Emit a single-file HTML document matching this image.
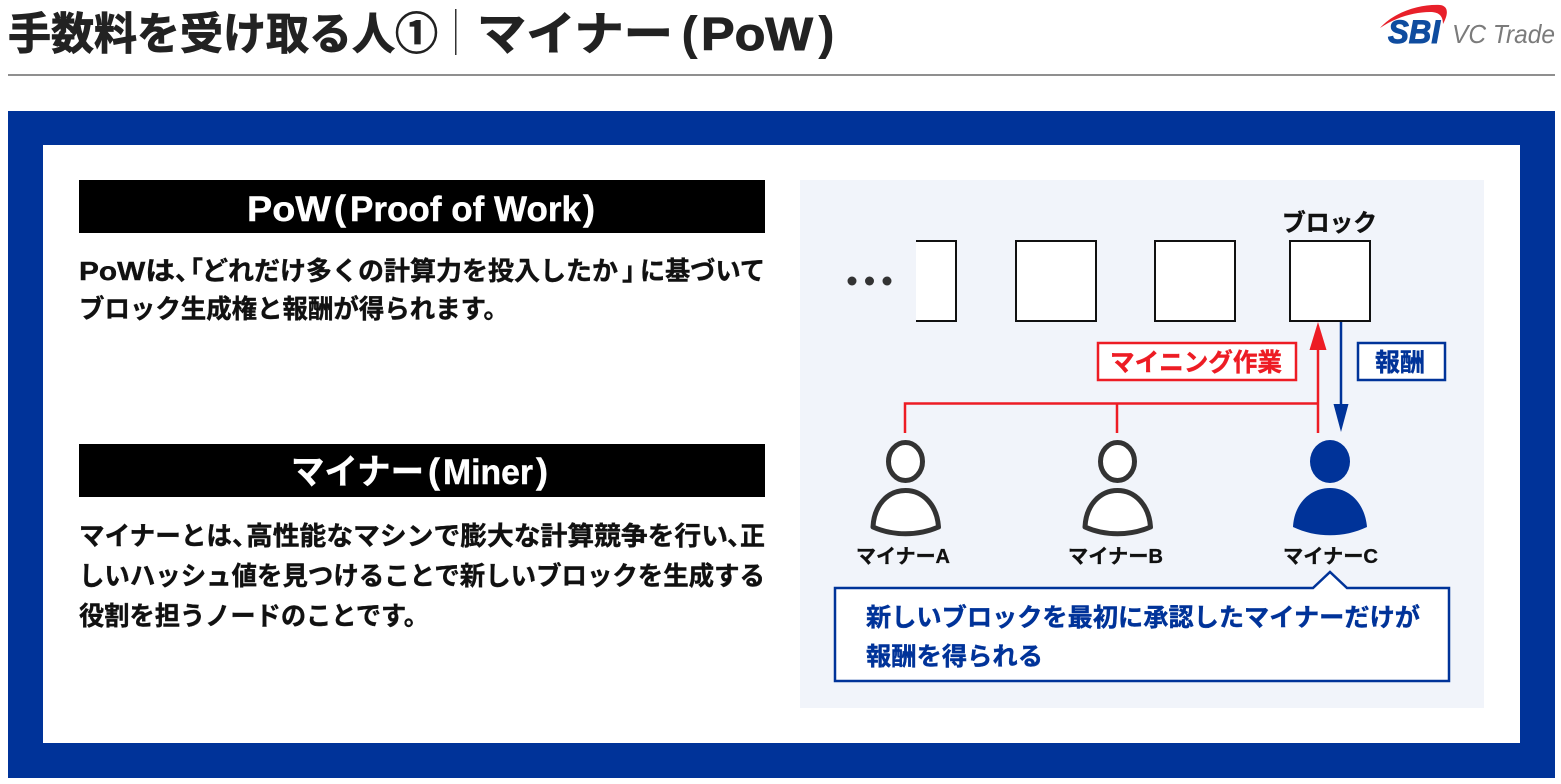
<!DOCTYPE html>
<html lang="ja">
<head>
<meta charset="utf-8">
<style>
html,body{margin:0;padding:0;background:#fff;width:1561px;height:784px;overflow:hidden}
svg{display:block}
text{font-family:"Liberation Sans","Noto Sans CJK JP",sans-serif;font-weight:700}
.b{font-size:26px;fill:#111;stroke:#111;stroke-width:.4}
.m{font-size:20px;fill:#111;stroke:#111;stroke-width:.3}
.t{font-size:44px;fill:#222;stroke:#222;stroke-width:.9}
.u{font-size:46px;fill:#222;stroke:#222;stroke-width:.9}
.h{font-size:35px;fill:#fff;stroke:#fff;stroke-width:.4}
</style>
</head>
<body>
<svg width="1561" height="784" viewBox="0 0 1561 784" xmlns="http://www.w3.org/2000/svg">
<rect width="1561" height="784" fill="#fff"/>
<!-- header -->
<text class="t" x="8" y="49" textLength="430" lengthAdjust="spacingAndGlyphs">手数料を受け取る人①</text>
<rect x="455" y="9" width="1.5" height="46" fill="#333"/>
<text class="u" x="477" y="50" textLength="196" lengthAdjust="spacingAndGlyphs">マイナー</text>
<text class="u" x="682" y="49" textLength="15" lengthAdjust="spacingAndGlyphs">(</text>
<text class="u" x="701" y="50" textLength="112" lengthAdjust="spacingAndGlyphs">PoW</text>
<text class="u" x="819" y="49" textLength="15" lengthAdjust="spacingAndGlyphs">)</text>
<rect x="8" y="74" width="1547" height="2" fill="#8f8f8f"/>
<!-- logo -->
<path d="M1380 28 C1394 12 1420 4 1440 5 C1448 6 1449 13 1443 24 C1443 15 1438 12 1430 12 C1414 12 1394 18 1380 28Z" fill="#e8202a"/>
<text x="1388" y="43" font-size="32" fill="#0f4c9f" style="font-style:italic;font-weight:900" stroke="#0f4c9f" stroke-width="1" textLength="52" lengthAdjust="spacingAndGlyphs">SBI</text>
<text x="1452" y="43" font-size="26" fill="#7b7b7b" style="font-style:italic;font-weight:400" textLength="103" lengthAdjust="spacingAndGlyphs">VC Trade</text>
<!-- frame -->
<rect x="8" y="111" width="1547" height="667" fill="#003399"/>
<rect x="43" y="145" width="1477" height="598" fill="#fff"/>
<!-- left -->
<rect x="79" y="180" width="686" height="53" fill="#000"/>
<text class="h" x="247" y="221" textLength="84" lengthAdjust="spacingAndGlyphs">PoW</text>
<text class="h" x="334" y="220" textLength="12" lengthAdjust="spacingAndGlyphs">(</text>
<text class="h" x="350" y="221" textLength="231" lengthAdjust="spacingAndGlyphs">Proof of Work</text>
<text class="h" x="583" y="220" textLength="12" lengthAdjust="spacingAndGlyphs">)</text>
<text class="b" x="79" y="280" textLength="96" lengthAdjust="spacingAndGlyphs">PoWは</text>
<text class="b" x="175" y="280" textLength="26" lengthAdjust="spacingAndGlyphs">、</text>
<text class="b" x="177" y="280" textLength="26" lengthAdjust="spacingAndGlyphs">「</text>
<text class="b" x="202" y="280" textLength="416" lengthAdjust="spacingAndGlyphs">どれだけ多くの計算力を投入したか</text>
<text class="b" x="622" y="280" textLength="26" lengthAdjust="spacingAndGlyphs">」</text>
<text class="b" x="640" y="280" textLength="125" lengthAdjust="spacingAndGlyphs">に基づいて</text>
<text class="b" x="79" y="318" textLength="430" lengthAdjust="spacingAndGlyphs">ブロック生成権と報酬が得られます。</text>
<rect x="79" y="444" width="686" height="53" fill="#000"/>
<text class="h" x="291" y="484" textLength="133" lengthAdjust="spacingAndGlyphs">マイナー</text>
<text class="h" x="428" y="483" textLength="12" lengthAdjust="spacingAndGlyphs">(</text>
<text class="h" x="443" y="484" textLength="90" lengthAdjust="spacingAndGlyphs">Miner</text>
<text class="h" x="536" y="483" textLength="12" lengthAdjust="spacingAndGlyphs">)</text>
<text class="b" x="79" y="545" textLength="153" lengthAdjust="spacingAndGlyphs">マイナーとは</text>
<text class="b" x="232" y="545" textLength="26" lengthAdjust="spacingAndGlyphs">、</text>
<text class="b" x="246" y="545" textLength="482" lengthAdjust="spacingAndGlyphs">高性能なマシンで膨大な計算競争を行い</text>
<text class="b" x="727" y="545" textLength="26" lengthAdjust="spacingAndGlyphs">、</text>
<text class="b" x="740" y="545" textLength="25" lengthAdjust="spacingAndGlyphs">正</text>
<text class="b" x="79" y="585" textLength="686" lengthAdjust="spacingAndGlyphs">しいハッシュ値を見つけることで新しいブロックを生成する</text>
<text class="b" x="79" y="625" textLength="350" lengthAdjust="spacingAndGlyphs">役割を担うノードのことです。</text>
<!-- panel -->
<rect x="800" y="180" width="684" height="528" fill="#f1f4fa"/>
<circle cx="852" cy="281" r="4.5" fill="#333"/><circle cx="869.500" cy="281" r="4.5" fill="#333"/><circle cx="887" cy="281" r="4.500" fill="#333"/>
<rect x="916" y="241" width="40" height="80" fill="#fff"/>
<path d="M916 241H956V321H916" fill="none" stroke="#111" stroke-width="2"/>
<rect x="1016" y="241" width="80" height="80" fill="#fff" stroke="#111" stroke-width="2"/>
<rect x="1155" y="241" width="80" height="80" fill="#fff" stroke="#111" stroke-width="2"/>
<rect x="1290" y="241" width="80" height="80" fill="#fff" stroke="#111" stroke-width="2"/>
<text x="1282" y="231" font-size="24" fill="#111" stroke="#111" stroke-width=".4" textLength="95" lengthAdjust="spacingAndGlyphs">ブロック</text>
<!-- connectors -->
<path d="M905 433V403.500H1318M1117 403.500V433M1318 433V345" fill="none" stroke="#ed1c24" stroke-width="2.500"/>
<polygon points="1318,322 1309.500,350 1326.500,350" fill="#ed1c24"/>
<path d="M1341 322V408" fill="none" stroke="#003399" stroke-width="2.500"/>
<polygon points="1341,432 1333.500,404 1348.500,404" fill="#003399"/>
<rect x="1098" y="343" width="198" height="37" fill="#fff" stroke="#ed1c24" stroke-width="2.500"/>
<text x="1110" y="371" font-size="25" fill="#ed1c24" stroke="#ed1c24" stroke-width=".4" textLength="172" lengthAdjust="spacingAndGlyphs">マイニング作業</text>
<rect x="1358" y="343" width="87" height="37" fill="#fff" stroke="#003399" stroke-width="2.500"/>
<text x="1375" y="371" font-size="25" fill="#003399" stroke="#003399" stroke-width=".4" textLength="50" lengthAdjust="spacingAndGlyphs">報酬</text>
<!-- people -->
<g fill="#fff" stroke="#333" stroke-width="5">
<ellipse cx="905.500" cy="461.500" rx="17" ry="19"/>
<path d="M873 527 C874 505 888 490.500 905.500 490.500 C923 490.500 937 505 938.500 527 C918 536 893 536 873 527Z" stroke-linejoin="round"/>
<ellipse cx="1117.500" cy="461.500" rx="17" ry="19"/>
<path d="M1085 527 C1086 505 1100 490.500 1117.500 490.500 C1135 490.500 1149 505 1150.500 527 C1130 536 1105 536 1085 527Z" stroke-linejoin="round"/>
</g>
<g fill="#003399">
<ellipse cx="1330" cy="461.500" rx="20" ry="21.500"/>
<path d="M1293 527 C1294 504 1310 488 1330 488 C1350 488 1365 504 1367 527 C1344 538 1316 538 1293 527Z"/>
</g>
<text class="m" x="856" y="563" textLength="94" lengthAdjust="spacingAndGlyphs">マイナーA</text>
<text class="m" x="1068" y="563" textLength="95" lengthAdjust="spacingAndGlyphs">マイナーB</text>
<text class="m" x="1283" y="563" textLength="95" lengthAdjust="spacingAndGlyphs">マイナーC</text>
<!-- callout -->
<path d="M835 588H1313L1330 572L1347 588H1449V681H835Z" fill="#fff" stroke="#003399" stroke-width="2.500"/>
<text x="866" y="626" font-size="25" fill="#003399" stroke="#003399" stroke-width=".4" textLength="554" lengthAdjust="spacingAndGlyphs">新しいブロックを最初に承認したマイナーだけが</text>
<text x="866" y="665" font-size="25" fill="#003399" stroke="#003399" stroke-width=".4" textLength="177" lengthAdjust="spacingAndGlyphs">報酬を得られる</text>
</svg>
</body>
</html>
